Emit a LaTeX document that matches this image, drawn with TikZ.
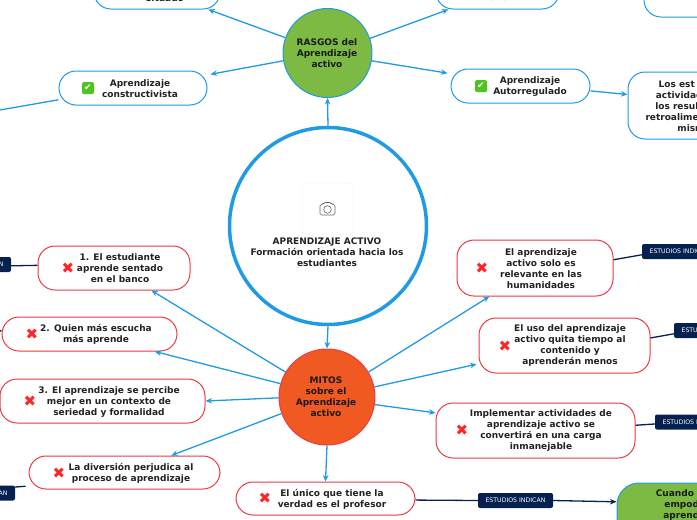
\documentclass[tikz,border=0pt]{standalone}
\usepackage{fontspec}
\setmainfont{DejaVu Sans}
\usepackage{xcolor}
\usetikzlibrary{arrows.meta,positioning,calc}
\definecolor{mapblue}{HTML}{1F9BE3}
\definecolor{mapred}{HTML}{EC3A46}
\definecolor{mapnavy}{HTML}{05214F}
\definecolor{mapgreen}{HTML}{7CBA43}
\definecolor{maporange}{HTML}{F05A22}
\definecolor{mapink}{HTML}{222222}
\definecolor{mapok}{HTML}{4FC31F}
\tikzset{
  link/.style={->,mapblue,line width=1.3pt},
  navylink/.style={mapnavy,line width=1.3pt},
  hub/.style={draw,circle,inner sep=0pt,line width=1pt},
  okbox/.style={draw=mapblue,line width=1pt,rounded corners=17pt,fill=white,inner sep=0pt},
  mitbox/.style={draw=mapred,line width=1pt,rounded corners=17pt,fill=white,inner sep=0pt},
  txt/.style={align=center,inner sep=0pt,text=mapink,font=\fontsize{9}{11}\selectfont\bfseries},
  tag/.style={fill=mapnavy,rounded corners=2pt,text=white,minimum width=75pt,minimum height=15pt,inner sep=0pt,font=\fontsize{6.2}{8}\selectfont},
  cross/.style={inner sep=0pt,text=red!85!white,font=\fontsize{15}{15}\selectfont},
  tick/.style={fill=mapok,rounded corners=1.5pt,minimum size=12pt,inner sep=0pt,text=white,font=\fontsize{9}{9}\selectfont}
}
\begin{document}
\begin{tikzpicture}[x=1pt,y=-1pt,>={Stealth[length=6.5pt,width=5.5pt]}]
\useasboundingbox (0,0) rectangle (697,520);
\clip (0,0) rectangle (697,520);
% central topic
\node[hub,draw=mapblue,line width=3.5pt,minimum size=197pt] (central) at (328,226) {};
\node[draw=black!8,rounded corners=3pt,fill=white,minimum size=51pt,inner sep=0pt] (photo) at (327.5,208.5) {};
\node[txt] (centraltxt) at (327,252.5) {APRENDIZAJE ACTIVO\\Formación orientada hacia los\\estudiantes};
\draw[black!60,line width=.6pt,rounded corners=1.5pt] (320,204.5) -- (323,204.5) -- (324,202.5) -- (331,202.5) -- (332,204.5) -- (335,204.5) -- (335,215) -- (320,215) -- cycle;
\draw[black!60,line width=.6pt] (327.5,209.5) circle (3.8);
% main branches
\node[hub,draw=mapblue,fill=mapgreen,minimum size=89pt] (rasgos) at (327.5,53) {};
\node[txt,text=black!90] (rasgostxt) at (327,53) {RASGOS del\\Aprendizaje\\activo};
\node[hub,draw=mapred,fill=maporange,minimum size=96pt] (mitos) at (327,397) {};
\node[txt,text=black!90] (mitostxt) at (326,397) {MITOS\\sobre el\\Aprendizaje\\activo};
% rasgos
\node[okbox,minimum width=126pt,minimum height=49pt] (situado) at (157,-15.5) {};
\node[txt] (situadotxt) at (165,-2) {situado};
\node[okbox,minimum width=123pt,minimum height=49pt] (social) at (497.5,-15.5) {};
\node[txt] (socialtxt) at (505,-3) {social};
\node[okbox,minimum width=150pt,minimum height=57pt] (otro) at (719,-11.5) {};
\node[okbox,minimum width=148pt,minimum height=34pt] (constr) at (133,88) {};
\node[txt] (constrtxt) at (140,88.5) {Aprendizaje\\constructivista};
\node[tick] (constrok) at (88,88) {✔};
\node[okbox,minimum width=139pt,minimum height=34pt] (autor) at (520.5,86) {};
\node[txt] (autortxt) at (530,86.5) {Aprendizaje\\Autorregulado};
\node[tick] (autorok) at (481,86) {✔};
\node[okbox,minimum width=138pt,minimum height=67pt] (logros) at (697,105.5) {};
\node[txt] (logrostxt) at (691,106) {Los est\phantom{udian}\\actividad\phantom{es y }\\los resul\phantom{tados}\\retroalime\phantom{ntación}\\mism};
\coordinate (salida) at (-6,111);
% mitos, left
\node[mitbox,minimum width=152pt,minimum height=44pt] (mito1) at (114,268) {};
\node[txt] (mito1txt) at (120,268) {1. El estudiante\\aprende sentado\\en el banco};
\node[cross] (mito1x) at (68,268) {✖};
\node[mitbox,minimum width=175pt,minimum height=34pt] (mito2) at (89.5,334) {};
\node[txt] (mito2txt) at (96,334.5) {2. Quien más escucha\\más aprende};
\node[cross] (mito2x) at (32,334) {✖};
\node[mitbox,minimum width=205pt,minimum height=44pt] (mito3) at (102.5,401) {};
\node[txt] (mito3txt) at (109,402) {3. El aprendizaje se percibe\\mejor en un contexto de\\seriedad y formalidad};
\node[cross] (mito3x) at (30,401) {✖};
\node[mitbox,minimum width=191pt,minimum height=33pt] (mito4) at (124.5,472.5) {};
\node[txt] (mito4txt) at (131,473) {La diversión perjudica al\\proceso de aprendizaje};
\node[cross] (mito4x) at (59,473) {✖};
\node[mitbox,minimum width=179pt,minimum height=33pt] (mito5) at (325.5,498.5) {};
\node[txt] (mito5txt) at (332,499) {El único que tiene la\\verdad es el profesor};
\node[cross] (mito5x) at (265,498) {✖};
% mitos, right
\node[mitbox,minimum width=156pt,minimum height=56pt] (mito6) at (535,268) {};
\node[txt] (mito6txt) at (541,268.5) {El aprendizaje\\activo solo es\\relevante en las\\humanidades};
\node[cross] (mito6x) at (482,268) {✖};
\node[mitbox,minimum width=171pt,minimum height=55pt] (mito7) at (564.5,345.5) {};
\node[txt] (mito7txt) at (570,346) {El uso del aprendizaje\\activo quita tiempo al\\contenido y\\aprenderán menos};
\node[cross] (mito7x) at (505,346) {✖};
\node[mitbox,minimum width=199pt,minimum height=55pt] (mito8) at (535.5,430.5) {};
\node[txt] (mito8txt) at (541,431) {Implementar actividades de\\aprendizaje activo se\\convertirá en una carga\\inmanejable};
\node[cross] (mito8x) at (462,430) {✖};
\node[okbox,fill=mapgreen,rounded corners=22pt,minimum width=146pt,minimum height=77pt] (cuando) at (690,521.5) {};
\node[txt,text=black!90,anchor=north] (cuandotxt) at (690,489) {Cuando se\phantom{ ab}\\empod\phantom{era}\\aprendi\phantom{zaj}};
% estudios indican
\node[tag] (tag1) at (-26.5,264.5) {ESTUDIOS INDICAN};
\node[tag] (tag4) at (-22.5,493) {ESTUDIOS INDICAN};
\node[tag] (tag5) at (515.5,500.5) {ESTUDIOS INDICAN};
\node[tag] (tag6) at (679.5,251.5) {ESTUDIOS INDICAN};
\node[tag] (tag7) at (711.5,330.5) {ESTUDIOS INDICAN};
\node[tag] (tag8) at (692.5,422) {ESTUDIOS INDICAN};
\coordinate (fuera2) at (-8,330.5);
% connectors
\draw[link] (central.north) -- (rasgos.south);
\draw[link] (central.south) -- (mitos.north);
\draw[link] (rasgos.160.6) -- (situado.-26.6);
\draw[link,shorten >=3pt] (rasgos.190.2) -- (constr.10.5);
\draw[link] (rasgos.19) -- (social.207.3);
\draw[link,shorten >=3pt] (rasgos.-10) -- (autor.170.6);
\draw[link] (autor.-4) -- (logros.171.3);
\draw[mapblue,line width=1.3pt] (constr.189.2) -- (salida);
\draw[link] (mitos.149.2) -- (mito1.-31);
\draw[link] (mitos.164.5) -- (mito2.-15);
\draw[link] (mitos.181) -- (mito3.east);
\draw[link] (mitos.200) -- (mito4.20.5);
\draw[link] (mitos.south) -- (mito5.north);
\draw[link] (mitos.31.8) -- (mito6.212.5);
\draw[link,shorten >=2pt] (mitos.12.7) -- (mito7.192.3);
\draw[link] (mitos.-9.3) -- (mito8.170.6);
\draw[navylink] (mito1.178.5) -- (tag1.-2.3);
\draw[navylink] (mito2.178) -- (fuera2);
\draw[navylink,shorten <=3pt] (mito4.188) -- (tag4.9);
\draw[navylink] (mito5.-1) -- (tag5.west);
\draw[navylink,->] (tag5.east) -- (cuando.165.8);
\draw[navylink] (mito6.6.6) -- (tag6.185.3);
\draw[navylink] (mito7.5.7) -- (tag7.185.3);
\draw[navylink] (mito8.3.2) -- (tag8.183);
\end{tikzpicture}
\end{document}
